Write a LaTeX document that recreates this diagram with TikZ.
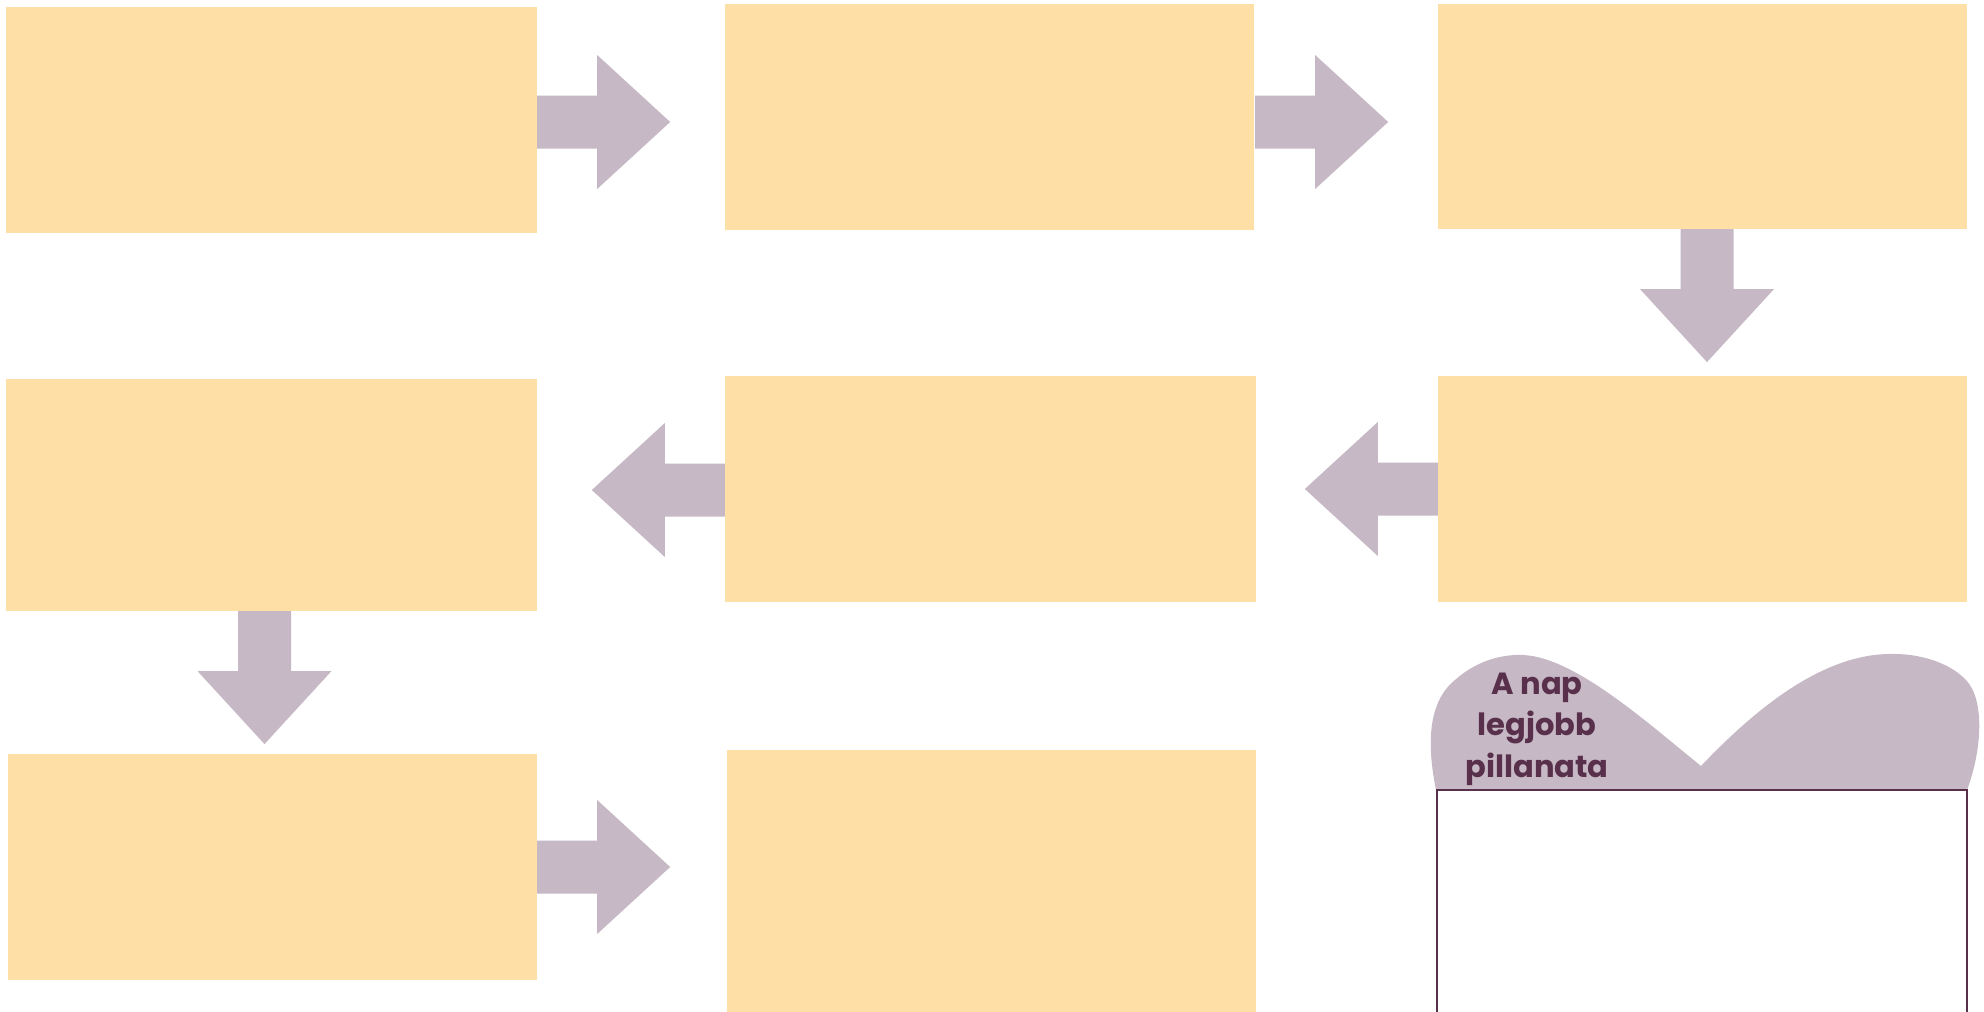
\documentclass[tikz,border=0pt]{standalone}
\usepackage{fontspec}
\newfontfamily\heartfont{Poppins}
\usetikzlibrary{calc}
\definecolor{boxfill}{HTML}{FEE0A7}
\definecolor{arrfill}{HTML}{C6B8C4}
\definecolor{plum}{HTML}{59304B}
\begin{document}
\begin{tikzpicture}[x=0.01cm,y=-0.01cm,
  box/.style={fill=boxfill, draw=none, inner sep=0pt, outer sep=0pt},
  arr/.style={fill=arrfill, draw=none},
  blockarrow/.pic={\fill[arr] (0,-26.5) -- (60,-26.5) -- (60,-67) -- (133,0) -- (60,67) -- (60,26.5) -- (0,26.5) -- cycle;},
]
\useasboundingbox (0,0) rectangle (1984,1012);
\fill[white] (0,0) rectangle (1984,1012);
% boxes
\node[box, minimum width=5.31cm, minimum height=2.26cm] (A) at (271.5,120) {};
\node[box, minimum width=5.29cm, minimum height=2.26cm] (B) at (989.5,117) {};
\node[box, minimum width=5.29cm, minimum height=2.25cm] (C) at (1702.5,116.5) {};
\node[box, minimum width=5.29cm, minimum height=2.26cm] (D) at (1702.5,489) {};
\node[box, minimum width=5.31cm, minimum height=2.26cm] (E) at (990.5,489) {};
\node[box, minimum width=5.31cm, minimum height=2.32cm] (F) at (271.5,495) {};
\node[box, minimum width=5.29cm, minimum height=2.26cm] (G) at (272.5,867) {};
\node[box, minimum width=5.29cm, minimum height=2.64cm] (H) at (991.5,882) {};
% arrows
\pic at ($(A.east)+(0,2)$) {blockarrow};
\pic at ($(B.east)+(1,5)$) {blockarrow};
\pic[rotate=-90] at ($(C.south)+(4.5,0)$) {blockarrow};
\pic[rotate=180] at (D.west) {blockarrow};
\pic[rotate=180] at ($(E.west)+(0,1)$) {blockarrow};
\pic[rotate=-90] at ($(F.south)+(-7,0)$) {blockarrow};
\pic at (G.east) {blockarrow};
% heart
\fill[arrfill] (1436,790) .. controls (1429,755) and (1424,705) .. (1455,680)
  .. controls (1475,662) and (1500,654) .. (1523,655)
  .. controls (1575,657) and (1650,725) .. (1701,766)
  .. controls (1745,720) and (1815,655) .. (1889,654)
  .. controls (1920,653) and (1950,663) .. (1966,680)
  .. controls (1985,700) and (1982,750) .. (1967,790) -- cycle;
\node[font=\heartfont\bfseries\fontsize{8.7}{11.8}\selectfont, text=plum, align=center, inner sep=0pt] (title) at (1537,729) {A nap\\legjobb\\pillanata};
% frame
\coordinate (fbl) at (1437,1014);
\coordinate (ftl) at (1437,790);
\coordinate (ftr) at (1967,790);
\coordinate (fbr) at (1967,1014);
\draw[plum, line width=0.7pt] (fbl) -- (ftl) -- (ftr) -- (fbr);
\end{tikzpicture}
\end{document}
